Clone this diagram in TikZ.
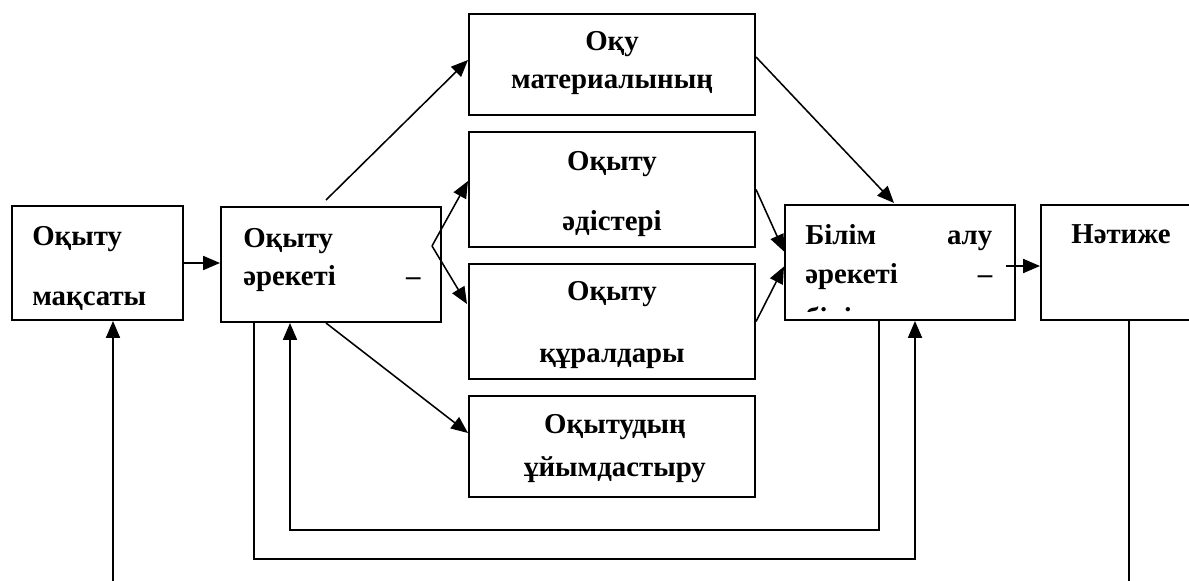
\documentclass[tikz,border=0pt]{standalone}
\usepackage{fontspec}
\setmainfont{Liberation Serif}
\usetikzlibrary{
  	positioning,
  	arrows.meta,
  	calc
  }
\tikzstyle{blok}=[draw,line width=1.4pt,inner sep=0pt,anchor=north west]
\tikzstyle{matn}=[inner sep=0pt,font=\fontsize{20.5}{27}\selectfont\bfseries]
\tikzstyle{arr}=[line width=1.1pt,-{Triangle[length=12pt,width=10pt]}]

\begin{document}
\begin{tikzpicture}[x=0.025cm,y=-0.025cm]
\useasboundingbox (0,0) rectangle (1189,580);
\clip (0,0) rectangle (1189,580);
% boxes
\node[blok,minimum width=4.275cm,minimum height=2.85cm] (maksat) at (11,205) {};
\node[blok,minimum width=5.5cm,minimum height=2.875cm] (areket) at (220,206) {};
\node[blok,minimum width=7.15cm,minimum height=2.525cm] (material) at (468,13) {};
\node[blok,minimum width=7.15cm,minimum height=2.875cm] (adis) at (468,131) {};
\node[blok,minimum width=7.15cm,minimum height=2.875cm] (kural) at (468,263) {};
\node[blok,minimum width=7.15cm,minimum height=2.525cm] (uyim) at (468,395) {};
\node[blok,minimum width=5.75cm,minimum height=2.875cm] (bilim) at (784,204) {};
\node[blok,minimum width=5cm,minimum height=2.875cm] (natije) at (1040,204) {};
% texts
\node[matn,anchor=north west,align=left] (maksat-t) at ($(maksat.north west)+(21,21)$) {Оқыту\\[16pt]мақсаты};
\node[matn,anchor=north west,align=left] (areket-t) at ($(areket.north west)+(23,22)$) {Оқыту\\\hbox to 126pt{әрекеті\hfill –}};
\node[matn,anchor=north,align=center] (material-t) at ($(material.north)+(0,18)$) {Оқу\\материалының};
\node[matn,anchor=north,align=center] (adis-t) at ($(adis.north)+(0,20)$) {Оқыту\\[16pt]әдістері};
\node[matn,anchor=north,align=center] (kural-t) at ($(kural.north)+(0,18)$) {Оқыту\\[17pt]құралдары};
\node[matn,anchor=north,align=center] (uyim-t) at ($(uyim.north)+(3,19)$) {Оқытудың\\[4pt]ұйымдастыру};
\begin{scope}
\clip (bilim.north west) rectangle ($(bilim.south east)+(0,-10)$);
\node[matn,anchor=north west,align=left] (bilim-t) at ($(bilim.north west)+(21,20)$) {\hbox to 133pt{Білім\hfill алу}\\[1pt]\hbox to 133pt{әрекеті\hfill –}\\[4.5pt]білім};
\end{scope}
\node[matn,anchor=north,align=center] (natije-t) at ($(natije.north west)+(81,20)$) {Нәтиже};
% connectors
\draw[arr] (maksat.east) -- (maksat.east -| areket.west);
\draw[arr] ($(areket.north west)+(106,-6)$) -- ($(material.north west)+(0,47)$);
\coordinate (ayir) at ($(areket.north west)+(212,40)$);
\draw[arr] (ayir) -- ($(adis.north west)+(0,50)$);
\draw[arr] (ayir) -- ($(kural.north west)+(-1,41)$);
\draw[arr] ($(areket.south west)+(106,0)$) -- ($(uyim.north west)+(0,38)$);
\draw[arr] ($(material.north east)+(0,44)$) -- ($(bilim.north west)+(110,-1)$);
\draw[arr] (adis.east) -- ($(bilim.west)+(0,-11)$);
\draw[arr] (kural.east) -- ($(bilim.west)+(0,4)$);
\draw[arr] ($(bilim.east)+(-10,3.5)$) -- ($(natije.west)+(0,3.5)$);
% feedback
\draw[arr] ($(bilim.south west)+(95,0)$) -- ++(0,209) -| ($(areket.south west)+(70,0)$);
\draw[arr] ($(areket.south west)+(34,0)$) -- ++(0,236) -| ($(bilim.south west)+(131,0)$);
\coordinate (kiris) at (113,585);
\draw[arr] (kiris) -- ($(maksat.south west)+(102,0)$);
\coordinate (shygys) at (1129,585);
\draw[line width=1.1pt] ($(natije.south west)+(89,0)$) -- (shygys);
\end{tikzpicture}
\end{document}
